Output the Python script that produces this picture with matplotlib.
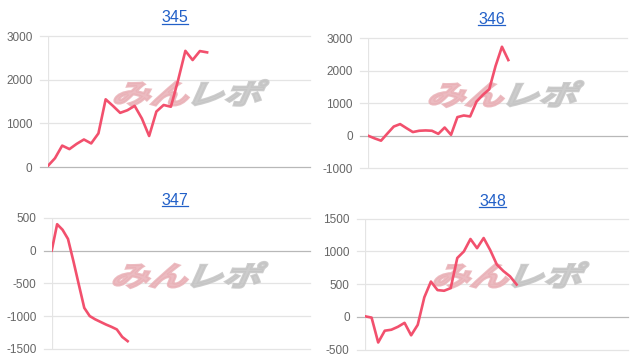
"""Four small slot-machine balance charts (machines 345-348)."""

import matplotlib

matplotlib.use("Agg")
import matplotlib.pyplot as plt
import numpy as np
from matplotlib.font_manager import FontProperties
from matplotlib.lines import Line2D
from matplotlib.patches import PathPatch
from matplotlib.textpath import TextPath
from matplotlib.transforms import Affine2D

plt.rcParams["font.family"] = ["Liberation Sans", "DejaVu Sans"]
plt.rcParams["axes.unicode_minus"] = False

W, H = 640, 364

titles = ["345", "346", "347", "348"]
s345 = [20, 200, 490, 410, 530, 630, 540, 770, 1550, 1400, 1240, 1300, 1400,
        1110, 710, 1270, 1420, 1380, 1990, 2660, 2450, 2655, 2625]
s346 = [0, -80, -150, 70, 285, 360, 235, 115, 155, 165, 155, 60, 255, 30,
        575, 625, 595, 1050, 1260, 1430, 2150, 2740, 2330]
s347 = [0, 405, 320, 180, -160, -520, -875, -1000, -1050, -1090, -1130,
        -1165, -1205, -1320, -1385]
s348 = [10, -10, -390, -210, -195, -150, -90, -280, -120, 300, 540, 410, 400,
        440, 900, 1000, 1190, 1050, 1205, 1020, 800, 700, 620, 495]
series = [s345, s346, s347, s348]
yranges = [(0, 3000), (-1000, 3000), (-1500, 500), (-500, 1500)]
ysteps = [1000, 1000, 500, 500]
xspans = [36.2, 40.6, 47.6, 39.9]

# axes boxes in pixels: left, top, right, bottom
boxes = [(47.7, 36, 310, 167), (368.3, 38.3, 626.7, 168.3),
         (51.7, 218, 310, 348.7), (365, 218.7, 628, 349.7)]
title_pos = [(175, 17.7), (491.7, 19.3), (175, 200), (492.8, 201)]
mark_pos = [(113, 93), (428, 94), (112, 275), (433, 275)]

LINE = "#f2506d"
GRID = "#e4e4e4"
ZERO = "#b8b8b8"
LINK = "#2260c8"

fig = plt.figure(figsize=(W / 100, H / 100), dpi=100)

jp = FontProperties(family="Noto Sans CJK JP", weight="bold")


def watermark(ax, x0, cy):
    p1 = TextPath((0, 0), "みん", size=30, prop=jp)
    ext1 = p1.get_extents()
    p2 = TextPath((ext1.x1 - 1, 0), "レポ", size=30, prop=jp)
    skew = Affine2D().skew_deg(18, 0)
    e = skew.transform_path(p1).get_extents()
    e2 = skew.transform_path(p2).get_extents()
    x_min, x_max = e.x0, e2.x1
    y_min, y_max = min(e.y0, e2.y0), max(e.y1, e2.y1)
    sx = 154 / (x_max - x_min)
    sy = 26 / (y_max - y_min)
    tr = (skew + Affine2D().translate(-x_min, -(y_min + y_max) / 2)
          .scale(sx, sy).translate(x0 + 1.5, H - cy))
    for p, c in ((p1, "#e9b0b6"), (p2, "#c4c4c4")):
        ax.add_artist(PathPatch(p, transform=tr, facecolor=c, edgecolor=c,
                                lw=1.6, alpha=0.85, zorder=1.5,
                                clip_on=False))


title_texts = []
for i in range(4):
    l, t, r, b = boxes[i]
    ax = fig.add_axes([l / W, (H - b) / H, (r - l) / W, (b - t) / H])
    ax.set_facecolor("none")
    y = series[i]
    x = np.arange(len(y))
    lo, hi = yranges[i]
    ticks = np.arange(lo, hi + 1, ysteps[i])
    tick_len = 8 / (r - l)
    for v in ticks:
        ax.axhline(v, xmin=-tick_len, xmax=1, color=ZERO if v == 0 else GRID,
                   lw=0.9, clip_on=False, zorder=1)
    ax.axvline(0, color=GRID, lw=0.9, zorder=1)
    ax.plot(x, y, color=LINE, lw=1.9, solid_joinstyle="round", zorder=3)
    ax.set_xlim(0, xspans[i])
    ax.set_ylim(lo, hi)
    ax.set_yticks(ticks)
    ax.set_yticklabels([str(int(v)) for v in ticks])
    ax.tick_params(axis="y", length=0, pad=11, labelsize=8.5,
                   labelcolor="#666666")
    ax.set_xticks([])
    for s in ax.spines.values():
        s.set_visible(False)
    watermark(ax, *mark_pos[i])

    tx, ty = title_pos[i]
    title_texts.append(fig.text(tx / W, 1 - ty / H, titles[i], color=LINK,
                                fontsize=11.5, ha="center", va="center"))

# underline the titles like links
renderer = fig.canvas.get_renderer()
for tt in title_texts:
    bb = tt.get_window_extent(renderer)
    yy = (bb.y0 + 1.5) / H
    fig.add_artist(Line2D([bb.x0 / W, bb.x1 / W], [yy, yy], color=LINK,
                          lw=0.9, transform=fig.transFigure))

fig.savefig("out.png", dpi=100)
